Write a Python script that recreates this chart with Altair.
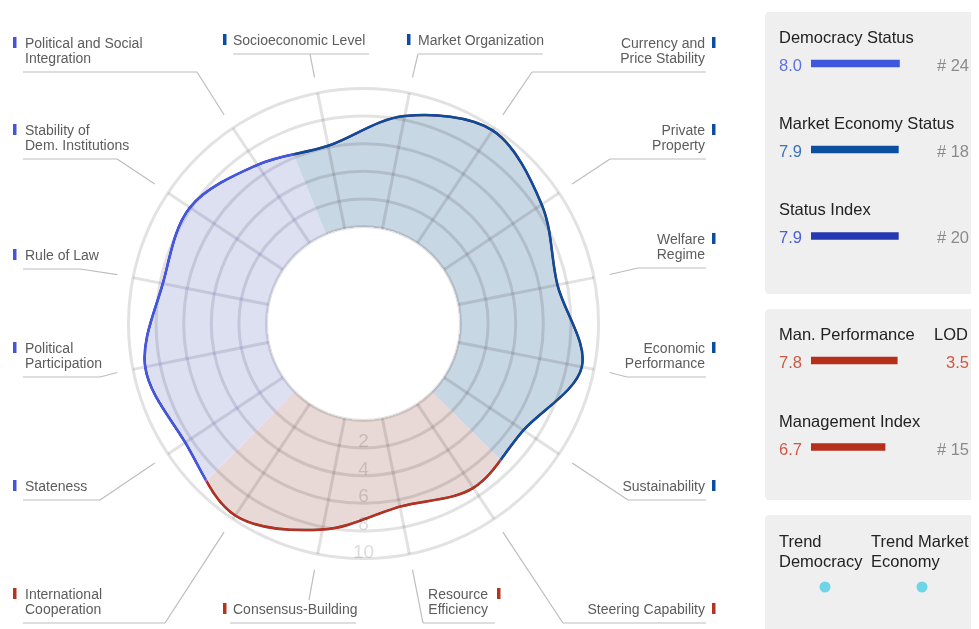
import math
import altair as alt
import pandas as pd

# ------------------------------------------------------------------ data
categories = [
    "Market Organization", "Currency and Price Stability", "Private Property",
    "Welfare Regime", "Economic Performance", "Sustainability",
    "Steering Capability", "Resource Efficiency", "Consensus-Building",
    "International Cooperation", "Stateness", "Political Participation",
    "Rule of Law", "Stability of Dem. Institutions",
    "Political and Social Integration", "Socioeconomic Level",
]
scores = [8.3, 9.8, 8.5, 7.3, 9.1, 6.9, 7.3, 6.5, 8.2, 9.7, 8.5, 9.1, 7.8, 8.1, 6.8, 6.1]
groups = (["market"] * 6 + ["management"] * 4 + ["democracy"] * 5 + ["market"])
label_lines = [
    ["Market Organization"], ["Currency and", "Price Stability"], ["Private", "Property"],
    ["Welfare", "Regime"], ["Economic", "Performance"], ["Sustainability"],
    ["Steering Capability"], ["Resource", "Efficiency"], ["Consensus-Building"],
    ["International", "Cooperation"], ["Stateness"], ["Political", "Participation"],
    ["Rule of Law"], ["Stability of", "Dem. Institutions"],
    ["Political and Social", "Integration"], ["Socioeconomic Level"],
]
tick_values = [2, 4, 6, 8, 10]

panel_titles = ["Democracy Status", "Market Economy Status", "Status Index",
                "Man. Performance", "Management Index"]
panel_values = [8.0, 7.9, 7.9, 7.8, 6.7]
panel_ranks = ["# 24", "# 18", "# 20", "3.5", "# 15"]
lod_header = "LOD"
trend_labels = [["Trend", "Democracy"], ["Trend Market", "Economy"]]

# ------------------------------------------------------------------ layout / style
W, H = 963, 621
CX, CY = 363.5, 323.5          # page coords of radial centre
R0, K = 97.0, 13.8             # radius of value 0, pixels per unit
R10 = R0 + K * 10
R_CONN = 251
STEP = 22.5
SEAM = 0.25                    # degrees of overlap between sector arcs
FONT = "Liberation Sans"
NARROW = "Liberation Sans Narrow, Arial Narrow, Liberation Sans"
GRID = "#e2e2e2"
LINEC = "#bdbdbd"
FILL = {"democracy": "#dde0f0", "market": "#c8d7e4", "management": "#e9d9d6"}
STROKE = {"democracy": "#4358dc", "market": "#0b4d9b", "management": "#b7321e"}
MARK = {"democracy": "#4455d6", "market": "#0b4ea0", "management": "#b43420"}

lab_x = [418, 705, 705, 705, 705, 705, 705, 488, 233, 25, 25, 25, 25, 25, 25, 233]
lab_al = ["left", "right", "right", "right", "right", "right", "right", "right",
          "left", "left", "left", "left", "left", "left", "left", "left"]
ul_y = [54, 72, 159, 268, 377, 500, 623, 623, 623, 623, 500, 377, 269, 159, 72, 54]
ul_x1 = [418, 532, 610, 638, 627, 628, 563, 423, 230, 23, 23, 23, 23, 23, 23, 233]
ul_x2 = [543, 706, 706, 706, 706, 706, 706, 495, 356, 165, 100, 100, 80, 117, 197, 369]
elb_x = [418, 532, 610, 638, 627, 628, 563, 423, 309, 165, 100, 100, 80, 117, 197, 310]
elb_y = [54, 72, 159, 268, 377, 500, 623, 623, 600, 623, 500, 377, 269, 159, 72, 54]
mk_x = [407, 712, 712, 712, 712, 712, 712, 497, 223, 13, 13, 13, 13, 13, 13, 223]

panel_box = {"x1": [765, 765, 765], "x2": [995, 995, 995], "y1": [12, 309, 515], "y2": [294, 500, 700]}
title_y = [43, 129, 215, 340, 427]
value_y = [71, 157, 243, 368, 455]
bar_y = [63.5, 149.5, 236, 360.5, 447]
value_col = ["#5d72e0", "#3a74b8", "#4b60d4", "#cf5843", "#cf5843"]
bar_col = ["#3f57dc", "#0b4f9e", "#2438b2", "#b52f1b", "#b52f1b"]
rank_col = ["#8b8b8b", "#8b8b8b", "#8b8b8b", "#cf5843", "#8b8b8b"]
RIGHT_EDGE = 969
trend_x = [779, 871]

xs = alt.Scale(domain=[8, 8 + W], range=[0, W], nice=False, zero=False)
ys = alt.Scale(domain=[8, 8 + H], reverse=True, nice=False, zero=False)


def X(f):
    return alt.X(f, type="quantitative", scale=xs, axis=None)


def Y(f):
    return alt.Y(f, type="quantitative", scale=ys, axis=None)


def sector_bounds(g):
    n = len(groups)
    idxs = [i for i, gg in enumerate(groups) if gg == g]
    start = next(i for i in idxs if groups[(i - 1) % n] != g)
    return start * STEP, start * STEP + len(idxs) * STEP


# ------------------------------------------------------------------ radial part
cat_df = pd.DataFrame({"idx": list(range(len(categories))), "cat": categories,
                       "score": scores, "group": groups})
curve = alt.Chart(cat_df).transform_calculate(
    ang=f"(datum.idx*{STEP}+{STEP/2})*PI/180",
    r=f"{R0}+{K}*datum.score",
).transform_calculate(
    px=f"{CX}+datum.r*sin(datum.ang)",
    py=f"{CY}-datum.r*cos(datum.ang)",
)
fill_black = curve.mark_line(interpolate="cardinal-closed", fill="black",
                             strokeOpacity=0).encode(
    x=X("px"), y=Y("py"), order=alt.Order("idx:Q"))

one = pd.DataFrame({"k": [0]})
hole = alt.Chart(one).mark_arc(fill="white", radius=R0, theta=0, theta2=2 * math.pi).encode(
    x=alt.value(CX - 8), y=alt.value(CY - 8))

sec_rows = []
for g in ["democracy", "market", "management"]:
    a0, a1 = sector_bounds(g)
    sec_rows.append({"group": g, "a0": a0, "a1": a1, "fill": FILL[g], "stroke": STROKE[g]})
sec = alt.Chart(pd.DataFrame(sec_rows)).transform_calculate(
    t0=f"(datum.a0-{SEAM})*PI/180", t1=f"(datum.a1+{SEAM})*PI/180")
fill_sec = sec.mark_arc(blend="lighten", radius=248, radius2=95).encode(
    x=alt.value(CX - 8), y=alt.value(CY - 8),
    theta=alt.Theta("t0:Q", scale=None), theta2="t1:Q",
    color=alt.Color("fill:N", scale=None))

ring_df = pd.DataFrame({"v": [0] + tick_values})
rings = alt.Chart(ring_df).transform_calculate(
    sz=f"pow(2*({R0}+{K}*datum.v),2)").mark_point(
    shape="circle", filled=False, stroke=GRID, strokeWidth=3, opacity=1,
    blend="multiply").encode(
    x=alt.value(CX - 8), y=alt.value(CY - 8), size=alt.Size("sz:Q", scale=None))

spokes = curve.transform_calculate(
    sx1=f"{CX}+{R0}*sin(datum.ang)", sy1=f"{CY}-{R0}*cos(datum.ang)",
    sx2=f"{CX}+{R10}*sin(datum.ang)", sy2=f"{CY}-{R10}*cos(datum.ang)",
).mark_rule(stroke=GRID, strokeWidth=3, blend="multiply").encode(
    x=X("sx1"), y=Y("sy1"), x2=alt.X2("sx2"), y2=alt.Y2("sy2"))

black_line = curve.mark_line(interpolate="cardinal-closed", stroke="black",
                             strokeWidth=2.5).encode(
    x=X("px"), y=Y("py"), order=alt.Order("idx:Q"))

stroke_sec = sec.mark_arc(blend="lighten", radius=248, radius2=95).encode(
    x=alt.value(CX - 8), y=alt.value(CY - 8),
    theta=alt.Theta("t0:Q", scale=None), theta2="t1:Q",
    color=alt.Color("stroke:N", scale=None))

tick_df = pd.DataFrame({"v": tick_values})
ticks = alt.Chart(tick_df).transform_calculate(
    tx=f"{CX}", ty=f"{CY}+{R0}+{K}*datum.v-1").mark_text(
    font=NARROW, fontSize=19, color="#dcdcdc", blend="multiply",
    align="center", baseline="alphabetic").encode(
    x=X("tx"), y=Y("ty"), text=alt.Text("v:Q"))

# ------------------------------------------------------------------ category labels
lab_df = pd.DataFrame({"idx": list(range(len(categories))), "group": groups,
                       "ul_y": ul_y, "ul_x1": ul_x1, "ul_x2": ul_x2,
                       "elb_x": elb_x, "elb_y": elb_y})
connectors = alt.Chart(lab_df).transform_calculate(
    ang=f"(datum.idx*{STEP}+{STEP/2})*PI/180").transform_calculate(
    c0x=f"{CX}+{R_CONN}*sin(datum.ang)", c0y=f"{CY}-{R_CONN}*cos(datum.ang)").mark_rule(
    color=LINEC, strokeWidth=1.2).encode(
    x=X("c0x"), y=Y("c0y"), x2=alt.X2("elb_x"), y2=alt.Y2("elb_y"))
underlines = alt.Chart(lab_df).mark_rule(color=LINEC, strokeWidth=1.2).encode(
    x=X("ul_x1"), x2=alt.X2("ul_x2"), y=Y("ul_y"))

text_rows, marker_rows = [], []
for i, lines in enumerate(label_lines):
    n = len(lines)
    for j, t in enumerate(lines):
        text_rows.append({"t": t, "x": lab_x[i], "y": ul_y[i] - 9 - 15 * (n - 1 - j),
                          "al": lab_al[i]})
    first = ul_y[i] - 9 - 15 * (n - 1)
    marker_rows.append({"x1": mk_x[i], "x2": mk_x[i] + 3.5, "y1": first - 11, "y2": first,
                        "c": MARK[groups[i]]})
text_df = pd.DataFrame(text_rows)
lab_left = alt.Chart(text_df[text_df.al == "left"]).mark_text(
    font=FONT, fontSize=14, color="#5c5c5c", align="left", baseline="alphabetic").encode(
    x=X("x"), y=Y("y"), text="t:N")
lab_right = alt.Chart(text_df[text_df.al == "right"]).mark_text(
    font=FONT, fontSize=14, color="#5c5c5c", align="right", baseline="alphabetic").encode(
    x=X("x"), y=Y("y"), text="t:N")
markers = alt.Chart(pd.DataFrame(marker_rows)).mark_rect().encode(
    x=X("x1"), x2=alt.X2("x2"), y=Y("y1"), y2=alt.Y2("y2"),
    color=alt.Color("c:N", scale=None))

# ------------------------------------------------------------------ right panels
panels = alt.Chart(pd.DataFrame(panel_box)).mark_rect(color="#efefef", cornerRadius=4).encode(
    x=X("x1"), x2=alt.X2("x2"), y=Y("y1"), y2=alt.Y2("y2"))

rows = pd.DataFrame({"title": panel_titles, "value": panel_values, "rank": panel_ranks,
                     "ty": title_y, "vy": value_y, "by": bar_y,
                     "vc": value_col, "bc": bar_col, "rc": rank_col})
rows["vtxt"] = [f"{v:.1f}" for v in panel_values]
titles = alt.Chart(rows).transform_calculate(tx="779").mark_text(
    font=FONT, fontSize=16.5, color="#222222", align="left", baseline="alphabetic").encode(
    x=X("tx"), y=Y("ty"), text="title:N")
lod = alt.Chart(pd.DataFrame({"t": [lod_header], "x": [RIGHT_EDGE - 1], "y": [title_y[3]]})).mark_text(
    font=FONT, fontSize=16.5, color="#222222", align="right", baseline="alphabetic").encode(
    x=X("x"), y=Y("y"), text="t:N")
vals = alt.Chart(rows).transform_calculate(tx="779").mark_text(
    font=FONT, fontSize=16.5, align="left", baseline="alphabetic").encode(
    x=X("tx"), y=Y("vy"), text="vtxt:N", color=alt.Color("vc:N", scale=None))
ranks = alt.Chart(rows).transform_calculate(tx=f"{RIGHT_EDGE}").mark_text(
    font=FONT, fontSize=16.5, align="right", baseline="alphabetic").encode(
    x=X("tx"), y=Y("vy"), text="rank:N", color=alt.Color("rc:N", scale=None))
bar_scale = alt.Scale(domain=[0, 10], range=[803, 914], nice=False, zero=False)
bars = alt.Chart(rows).transform_calculate(
    z="0", b1="datum.by-3.8", b2="datum.by+3.8").mark_rect().encode(
    x=alt.X("z:Q", scale=bar_scale, axis=None), x2=alt.X2("value"),
    y=Y("b1"), y2=alt.Y2("b2"), color=alt.Color("bc:N", scale=None))

trend_rows = []
for k, lines in enumerate(trend_labels):
    for j, t in enumerate(lines):
        trend_rows.append({"t": t, "x": trend_x[k], "y": 547 + 20 * j})
trend_txt = alt.Chart(pd.DataFrame(trend_rows)).mark_text(
    font=FONT, fontSize=16.5, color="#222222", align="left", baseline="alphabetic").encode(
    x=X("x"), y=Y("y"), text="t:N")
dots = alt.Chart(pd.DataFrame({"x": [825, 922], "y": [587, 587]})).mark_point(
    shape="circle", filled=True, size=121, opacity=1, color="#6dd5e5").encode(
    x=X("x"), y=Y("y"))

chart = alt.layer(
    fill_black, hole, fill_sec, rings, spokes, black_line, stroke_sec, ticks,
    connectors, underlines, lab_left, lab_right, markers,
    panels, titles, lod, vals, ranks, bars, trend_txt, dots,
).resolve_scale(x="independent").properties(
    width=W, height=H, padding=0, autosize=alt.AutoSizeParams(type="none"),
    background="white",
).configure_view(stroke=None)

chart.save("out.html", embed_options={"renderer": "svg", "actions": False})
